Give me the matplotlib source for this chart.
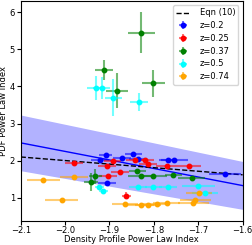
import matplotlib
matplotlib.use("Agg")
import matplotlib.pyplot as plt
import numpy as np

# ---- data ----
blue_x = [-1.909, -1.921, -1.871, -1.846, -1.835, -1.768, -1.754, -1.905, -1.640]
blue_y = [2.15, 2.02, 2.07, 2.18, 2.04, 2.01, 2.01, 1.40, 1.64]
blue_xe = [0.015, 0.02, 0.02, 0.02, 0.02, 0.02, 0.03, 0.02, 0.036]
blue_ye = [0.03, 0.03, 0.03, 0.03, 0.03, 0.03, 0.03, 0.03, 0.03]

red_x = [-1.980, -1.893, -1.906, -1.843, -1.820, -1.813, -1.771, -1.720, -1.876, -1.903, -1.862]
red_y = [1.95, 1.98, 1.86, 2.01, 2.03, 1.92, 1.85, 1.86, 1.70, 1.58, 1.06]
red_xe = [0.02, 0.02, 0.02, 0.02, 0.02, 0.02, 0.025, 0.026, 0.02, 0.02, 0.01]
red_ye = [0.03, 0.03, 0.03, 0.03, 0.03, 0.03, 0.03, 0.03, 0.03, 0.03, 0.10]

green_x = [-1.912, -1.884, -1.828, -1.801, -1.932, -1.942, -1.837, -1.828, -1.801, -1.756, -1.715]
green_y = [4.43, 3.88, 5.45, 4.08, 1.58, 1.43, 1.72, 1.59, 1.59, 1.62, 1.54]
green_xe = [0.02, 0.025, 0.03, 0.025, 0.015, 0.015, 0.02, 0.03, 0.03, 0.02, 0.03]
green_ye = [0.27, 0.47, 0.56, 0.36, 0.20, 0.25, 0.03, 0.03, 0.03, 0.03, 0.03]

cyan_x = [-1.930, -1.918, -1.891, -1.833, -1.923, -1.914, -1.835, -1.801, -1.768, -1.700, -1.685]
cyan_y = [3.95, 3.95, 3.70, 3.57, 1.30, 1.18, 1.28, 1.28, 1.28, 1.33, 1.13]
cyan_xe = [0.02, 0.02, 0.02, 0.02, 0.01, 0.01, 0.02, 0.02, 0.02, 0.037, 0.03]
cyan_ye = [0.32, 0.30, 0.49, 0.24, 0.03, 0.03, 0.03, 0.03, 0.03, 0.03, 0.03]

orange_x = [-2.049, -1.980, -2.008, -1.865, -1.830, -1.813, -1.794, -1.771, -1.698, -1.707, -1.711]
orange_y = [1.48, 1.56, 0.95, 0.84, 0.80, 0.82, 0.83, 0.86, 1.13, 0.93, 0.86]
orange_xe = [0.037, 0.032, 0.0375, 0.03, 0.03, 0.03, 0.03, 0.03, 0.03, 0.035, 0.035]
orange_ye = [0.03, 0.03, 0.03, 0.03, 0.03, 0.03, 0.03, 0.03, 0.03, 0.03, 0.03]

series = [
    ("z=0.2", "blue", blue_x, blue_y, blue_xe, blue_ye),
    ("z=0.25", "red", red_x, red_y, red_xe, red_ye),
    ("z=0.37", "green", green_x, green_y, green_xe, green_ye),
    ("z=0.5", "cyan", cyan_x, cyan_y, cyan_xe, cyan_ye),
    ("z=0.74", "orange", orange_x, orange_y, orange_xe, orange_ye),
]

# fit line and band (end values)
fit_x = [-2.1, -1.6]
fit_y = [2.48, 1.33]
band_hi = [3.23, 1.98]
band_lo = [1.73, 0.69]
eqn_x = [-2.1, -1.6]
eqn_y = [2.10, 1.62]

fig = plt.figure(figsize=(2.53, 2.45), dpi=100)
ax = fig.add_axes([0.082, 0.100, 0.877, 0.896])

ax.fill_between(fit_x, band_lo, band_hi, color="blue", alpha=0.3, linewidth=0)
ax.plot(fit_x, fit_y, color="blue", lw=1.0)
ax.plot(eqn_x, eqn_y, color="black", ls="--", lw=1.0, label="Eqn (10)")

for lab, col, x, y, xe, ye in series:
    ax.errorbar(x, y, xerr=xe, yerr=ye, fmt="o", color=col, ms=3.2,
                elinewidth=1.5, ecolor=col, alpha=1.0, label=lab,
                capsize=0)

# make error bars lighter
for coll in ax.collections[1:]:
    coll.set_alpha(0.55)

ax.set_xlim(-2.1, -1.6)
ax.set_ylim(0.39, 6.3)
ax.set_xticks([-2.1, -2.0, -1.9, -1.8, -1.7, -1.6])
ax.set_yticks([1, 2, 3, 4, 5, 6])
ax.tick_params(labelsize=6, length=3, pad=1.2)
ax.set_xlabel("Density Profile Power Law Index", fontsize=6, labelpad=0)
ax.set_ylabel("PDF Power Law Index", fontsize=6, labelpad=1)
ax.legend(loc="upper right", fontsize=6, handlelength=1.6, borderpad=0.4,
          labelspacing=0.45, handletextpad=1.2)

fig.savefig("out.png", dpi=100)
